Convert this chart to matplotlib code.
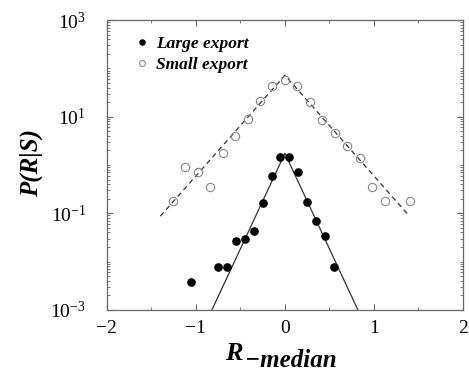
import matplotlib
matplotlib.use("Agg")
import matplotlib.pyplot as plt
from matplotlib.ticker import (FixedLocator, LogLocator, LogFormatterSciNotation,
                               MultipleLocator, NullFormatter)

plt.rcParams["font.family"] = "Liberation Serif"
plt.rcParams["mathtext.fontset"] = "custom"
plt.rcParams["mathtext.rm"] = "Liberation Serif"
plt.rcParams["mathtext.it"] = "Liberation Serif:italic"
plt.rcParams["mathtext.bf"] = "Liberation Serif:bold"

# data
large_x = [-1.05, -0.75, -0.65, -0.55, -0.45, -0.35, -0.25, -0.15, -0.05,
           0.05, 0.15, 0.25, 0.35, 0.45, 0.55]
large_y = [0.0038, 0.0076, 0.0076, 0.027, 0.030, 0.043, 0.16, 0.59, 1.48,
           1.48, 0.72, 0.17, 0.069, 0.034, 0.0076]

small_x = [-1.26, -1.12, -0.98, -0.84, -0.70, -0.56, -0.42, -0.28, -0.14, 0.0,
           0.14, 0.28, 0.42, 0.56, 0.70, 0.84, 0.98, 1.12, 1.40]
small_y = [0.18, 0.90, 0.72, 0.35, 1.8, 3.9, 8.8, 21, 43, 57,
           43, 20, 8.4, 4.5, 2.5, 1.4, 0.35, 0.18, 0.18]

# fitted tent lines (end points and peak)
large_fit_x = [-0.82, 0.0, 0.82]
large_fit_y = [1e-3, 1.74, 1e-3]
small_fit_x = [-1.40, 0.0, 1.40]
small_fit_y = [0.087, 72, 0.087]

y_ticks = [1e-3, 1e-1, 1e1, 1e3]

fig = plt.figure(figsize=(4.69, 3.72), dpi=100)
ax = fig.add_axes([0.228, 0.167, 0.759, 0.779])

ax.plot(large_fit_x, large_fit_y, "-", color="#333333", lw=0.9)
ax.plot(small_fit_x, small_fit_y, "--", color="#333333", lw=0.9, dashes=(4, 3))
ax.plot(large_x, large_y, "o", color="black", ms=5.2, label="Large export")
ax.plot(small_x, small_y, "o", mfc="none", mec="#888888", mew=0.8, ms=6,
        label="Small export")

ax.set_yscale("log")
ax.set_xlim(-2, 2)
ax.set_ylim(1e-3, 1e3)

ax.xaxis.set_major_locator(MultipleLocator(1))
ax.xaxis.set_minor_locator(MultipleLocator(0.5))
ax.yaxis.set_major_locator(FixedLocator(y_ticks))
ax.yaxis.set_major_formatter(LogFormatterSciNotation(base=10))
ax.yaxis.set_minor_locator(LogLocator(base=10, subs=range(1, 10), numticks=50))
ax.yaxis.set_minor_formatter(NullFormatter())

ax.tick_params(which="both", direction="in", top=True, right=True,
               color="#666666")
ax.tick_params(axis="x", labelsize=14, pad=7)
ax.tick_params(axis="y", labelsize=14, pad=15)
ax.tick_params(which="major", length=4)
ax.tick_params(which="minor", length=2.5)
for s in ax.spines.values():
    s.set_color("#666666")
    s.set_linewidth(0.9)

# axis titles
fig.text(225 / 469, 1 - 360 / 372, "R", fontsize=19, fontweight="bold",
         fontstyle="italic", ha="left", va="baseline")
fig.text(245 / 469, 1 - 367 / 372, "\u2212median", fontsize=18, fontweight="bold",
         fontstyle="italic", ha="left", va="baseline")
fig.text(31 / 469, 1 - 163 / 372, "P(R|S)", fontsize=18, fontweight="bold",
         fontstyle="italic", rotation=90, ha="center", va="center")

leg = ax.legend(loc="upper left", frameon=False, fontsize=12.5, markerscale=0.7,
                handlelength=0.6, handletextpad=0.5, labelspacing=0.3,
                bbox_to_anchor=(0.04, 1.0))
for t in leg.get_texts():
    t.set_fontweight("bold")
    t.set_fontstyle("italic")

fig.savefig("out.png", dpi=100)
